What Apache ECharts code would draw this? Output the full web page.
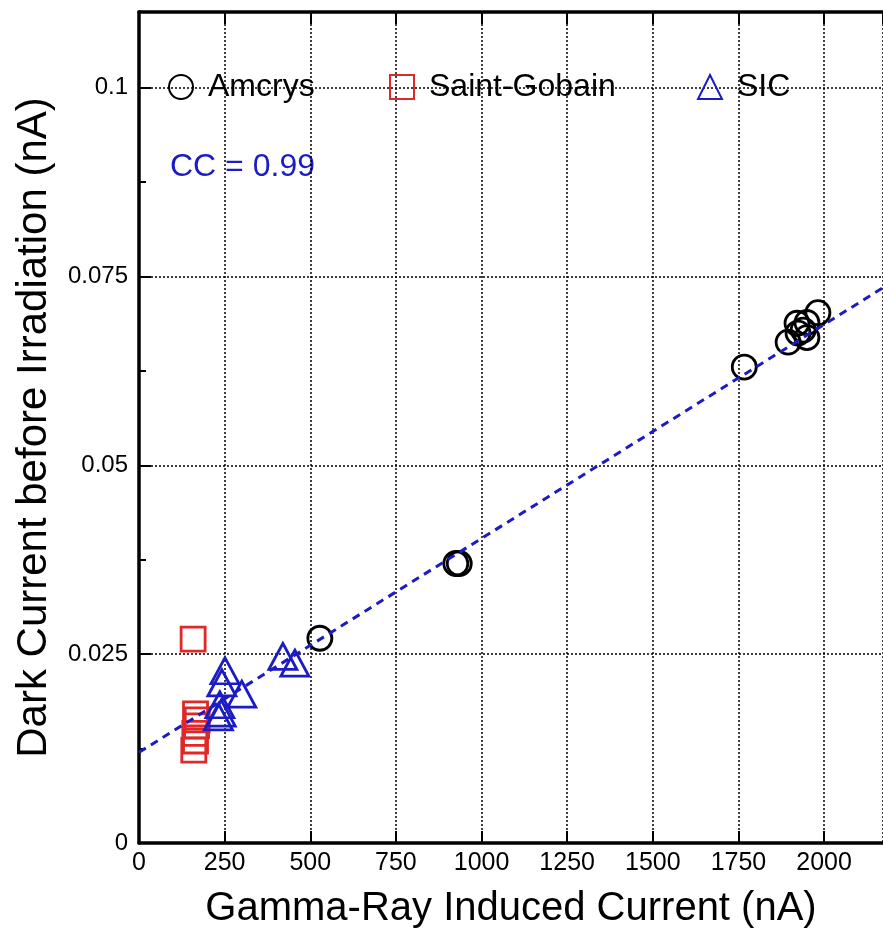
<!DOCTYPE html>
<html>
<head>
<meta charset="utf-8">
<script src="https://cdn.jsdelivr.net/npm/echarts@6/dist/echarts.min.js"></script>
<style>html,body{margin:0;padding:0;background:#fff}#c{width:883px;height:934px}</style>
</head>
<body>
<div id="c"></div>
<script>
// Data
const amcrysX = [528, 925, 935, 1767, 1895, 1921, 1950, 1939, 1950, 1924, 1982];
const amcrysY = [0.0271, 0.037, 0.037, 0.063, 0.0663, 0.0688, 0.0689, 0.0679, 0.0669, 0.0675, 0.0702];
const sgX = [158, 165, 170, 168, 163, 165, 160];
const sgY = [0.027, 0.0171, 0.0163, 0.0155, 0.0145, 0.0135, 0.0123];
const sicX = [251, 242, 300, 236, 240, 232, 420, 455];
const sicY = [0.0228, 0.0212, 0.0197, 0.0183, 0.0172, 0.0167, 0.0247, 0.0238];
const fitX = [0, 2172];
const fitY = [0.012, 0.0735];
const seriesNames = ['Amcrys', 'Saint-Gobain', 'SIC'];
const ccLabel = 'CC = 0.99';
const xTitle = 'Gamma-Ray Induced Current (nA)';
const yTitle = 'Dark Current before Irradiation (nA)';

const zip = (a, b) => a.map((v, i) => [v, b[i]]);
const FONT = 'Liberation Sans, Arial, sans-serif';
const BLUE = '#1c1cc4';
const RED = '#e02828';

const chart = echarts.init(document.getElementById('c'), null, {renderer: 'canvas'});
const gridLine = {show: true, lineStyle: {color: '#000', width: 1.5, type: [2, 2]}};
const legendBase = {
  top: 66, orient: 'horizontal', itemWidth: 24, itemHeight: 24,
  textStyle: {fontSize: 32, fontFamily: FONT, color: '#000', padding: [0, 0, 0, 10]},
  selectedMode: false
};
chart.setOption({
  animation: false,
  backgroundColor: '#fff',
  grid: {left: 139, right: 0, top: 12, bottom: 91, containLabel: false},
  legend: [
    Object.assign({left: 163, data: [seriesNames[0]]}, legendBase),
    Object.assign({left: 384, data: [seriesNames[1]]}, legendBase),
    Object.assign({left: 692, data: [seriesNames[2]], itemWidth: 27, itemHeight: 25}, legendBase)
  ],
  xAxis: [{
    type: 'value', min: 0, max: 2172, interval: 250, position: 'bottom',
    name: xTitle, nameLocation: 'middle', nameGap: 46,
    nameTextStyle: {fontSize: 40, fontFamily: FONT, color: '#000'},
    axisLine: {show: true, onZero: false, lineStyle: {color: '#000', width: 3.5}},
    axisTick: {show: true, inside: true, length: 12, lineStyle: {color: '#000', width: 2}},
    axisLabel: {fontSize: 25, fontFamily: FONT, color: '#000', margin: 8, showMaxLabel: false,
      formatter: v => String(v)},
    splitLine: gridLine
  }, {
    type: 'value', min: 0, max: 2172, interval: 250, position: 'top',
    axisLine: {show: true, onZero: false, lineStyle: {color: '#000', width: 3.5}},
    axisTick: {show: true, inside: true, length: 12, lineStyle: {color: '#000', width: 2}},
    axisLabel: {show: false}, splitLine: {show: false}
  }],
  yAxis: {
    type: 'value', min: 0, max: 0.11, interval: 0.025,
    name: yTitle, nameLocation: 'middle', nameGap: 84,
    nameTextStyle: {fontSize: 42, fontFamily: FONT, color: '#000'},
    axisLine: {show: true, onZero: false, lineStyle: {color: '#000', width: 3.5}},
    axisTick: {show: true, inside: true, length: 12, lineStyle: {color: '#000', width: 2}},
    minorTick: {show: true, splitNumber: 2, length: 7, lineStyle: {color: '#000', width: 2}},
    axisLabel: {fontSize: 24, fontFamily: FONT, color: '#000', margin: 11, showMaxLabel: false},
    splitLine: gridLine
  },
  graphic: [{
    type: 'text', left: 170, top: 151,
    style: {text: ccLabel, fontSize: 32, fontFamily: FONT, fill: BLUE}
  }],
  series: [{
    name: seriesNames[0], type: 'scatter', symbol: 'circle', symbolSize: 24,
    itemStyle: {color: 'rgba(255,255,255,0)', borderColor: '#000', borderWidth: 2.8, opacity: 1},
    data: zip(amcrysX, amcrysY)
  }, {
    name: seriesNames[1], type: 'scatter', symbol: 'rect', symbolSize: 24,
    itemStyle: {color: 'rgba(255,255,255,0)', borderColor: RED, borderWidth: 2.8, opacity: 1},
    data: zip(sgX, sgY)
  }, {
    name: seriesNames[2], type: 'scatter', symbol: 'triangle', symbolSize: [28, 26],
    itemStyle: {color: 'rgba(255,255,255,0)', borderColor: BLUE, borderWidth: 2.8, opacity: 1},
    data: zip(sicX, sicY)
  }, {
    name: 'fit', type: 'line', symbol: 'none', silent: true,
    lineStyle: {color: BLUE, width: 3, type: [8, 6]},
    data: zip(fitX, fitY), z: 3
  }]
});
</script>
</body>
</html>
